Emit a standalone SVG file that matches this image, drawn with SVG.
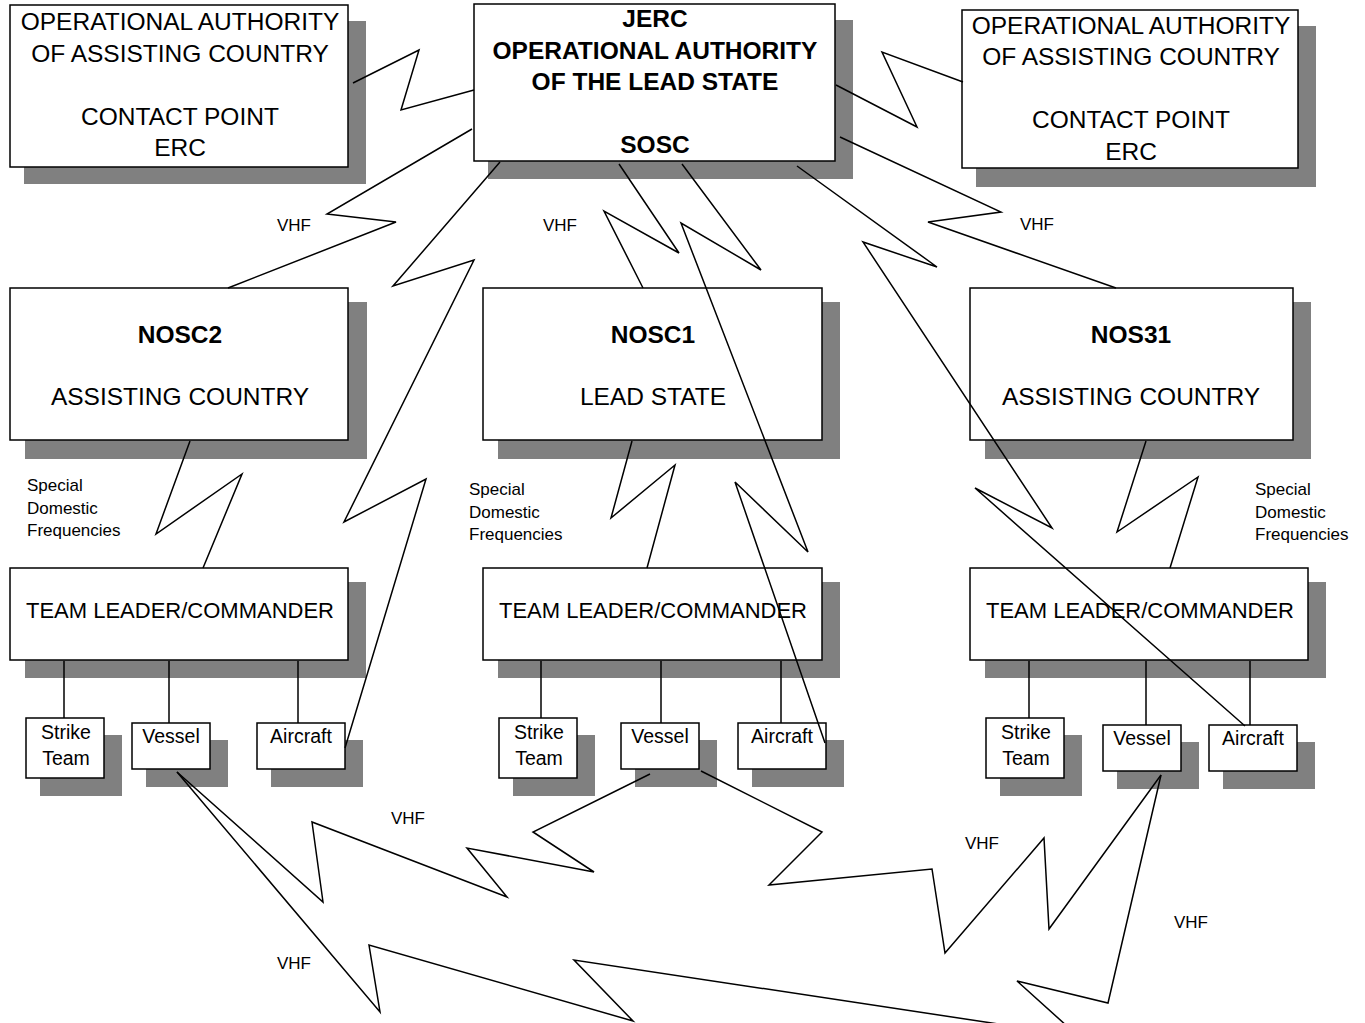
<svg xmlns="http://www.w3.org/2000/svg" width="1365" height="1023" viewBox="0 0 1365 1023">
<style>
.sh{fill:#808080;stroke:none}
.bx{fill:#fff;stroke:#000;stroke-width:1.5}
.t{font-family:"Liberation Sans",Arial,sans-serif;fill:#000;text-anchor:middle}
.big{font-size:24.5px}
.bold{font-size:24.5px;font-weight:bold}
.tl{font-size:22px}
.sm{font-size:19.5px}
.lb{font-family:"Liberation Sans",Arial,sans-serif;fill:#000;font-size:17px}
.ln{fill:none;stroke:#000;stroke-width:1.5;stroke-linejoin:miter}
</style>
<rect width="1365" height="1023" fill="#fff"/>

<g id="oa-left">
<rect class="sh" x="24" y="21" width="342" height="163"/>
<rect class="bx" x="10" y="5" width="338" height="162"/>
<text class="t big" x="180" y="30">OPERATIONAL AUTHORITY</text>
<text class="t big" x="180" y="62">OF ASSISTING COUNTRY</text>
<text class="t big" x="180" y="125">CONTACT POINT</text>
<text class="t big" x="180" y="156">ERC</text>
</g>

<g id="jerc">
<rect class="sh" x="488" y="20" width="365" height="159"/>
<rect class="bx" x="474" y="4" width="361" height="157"/>
<text class="t bold" x="655" y="27">JERC</text>
<text class="t bold" x="655" y="59">OPERATIONAL AUTHORITY</text>
<text class="t bold" x="655" y="90">OF THE LEAD STATE</text>
<text class="t bold" x="655" y="153">SOSC</text>
</g>

<g id="oa-right">
<rect class="sh" x="976" y="26" width="340" height="161"/>
<rect class="bx" x="962" y="10" width="336" height="158"/>
<text class="t big" x="1131" y="34">OPERATIONAL AUTHORITY</text>
<text class="t big" x="1131" y="65">OF ASSISTING COUNTRY</text>
<text class="t big" x="1131" y="128">CONTACT POINT</text>
<text class="t big" x="1131" y="160">ERC</text>
</g>

<g id="nosc2">
<rect class="sh" x="25" y="302" width="342" height="157"/>
<rect class="bx" x="10" y="288" width="338" height="152"/>
<text class="t bold" x="180" y="343">NOSC2</text>
<text class="t big" x="180" y="405">ASSISTING COUNTRY</text>
</g>

<g id="nosc1">
<rect class="sh" x="498" y="302" width="342" height="157"/>
<rect class="bx" x="483" y="288" width="339" height="152"/>
<text class="t bold" x="653" y="343">NOSC1</text>
<text class="t big" x="653" y="405">LEAD STATE</text>
</g>

<g id="nos31">
<rect class="sh" x="985" y="302" width="326" height="157"/>
<rect class="bx" x="970" y="288" width="323" height="152"/>
<text class="t bold" x="1131" y="343">NOS31</text>
<text class="t big" x="1131" y="405">ASSISTING COUNTRY</text>
</g>

<g id="tl-left">
<rect class="sh" x="25" y="582" width="341" height="96"/>
<rect class="bx" x="10" y="568" width="338" height="92"/>
<text class="t tl" x="180" y="618">TEAM LEADER/COMMANDER</text>
</g>

<g id="tl-center">
<rect class="sh" x="498" y="582" width="342" height="96"/>
<rect class="bx" x="483" y="568" width="339" height="92"/>
<text class="t tl" x="653" y="618">TEAM LEADER/COMMANDER</text>
</g>

<g id="tl-right">
<rect class="sh" x="985" y="582" width="341" height="96"/>
<rect class="bx" x="970" y="568" width="338" height="92"/>
<text class="t tl" x="1140" y="618">TEAM LEADER/COMMANDER</text>
</g>

<g id="strike-left">
<rect class="sh" x="40" y="735" width="82" height="61"/>
<rect class="bx" x="26" y="718" width="78" height="60"/>
<text class="t sm" x="66" y="739">Strike</text>
<text class="t sm" x="66" y="765">Team</text>
</g>
<g id="vessel-left">
<rect class="sh" x="146" y="740" width="82" height="47"/>
<rect class="bx" x="132" y="723" width="78" height="46"/>
<text class="t sm" x="171" y="743">Vessel</text>
</g>
<g id="aircraft-left">
<rect class="sh" x="271" y="740" width="92" height="47"/>
<rect class="bx" x="257" y="723" width="88" height="46"/>
<text class="t sm" x="301" y="743">Aircraft</text>
</g>

<g id="strike-center">
<rect class="sh" x="513" y="735" width="82" height="61"/>
<rect class="bx" x="499" y="718" width="78" height="60"/>
<text class="t sm" x="539" y="739">Strike</text>
<text class="t sm" x="539" y="765">Team</text>
</g>
<g id="vessel-center">
<rect class="sh" x="635" y="740" width="82" height="47"/>
<rect class="bx" x="621" y="723" width="78" height="46"/>
<text class="t sm" x="660" y="743">Vessel</text>
</g>
<g id="aircraft-center">
<rect class="sh" x="752" y="740" width="92" height="47"/>
<rect class="bx" x="738" y="723" width="88" height="46"/>
<text class="t sm" x="782" y="743">Aircraft</text>
</g>

<g id="strike-right">
<rect class="sh" x="1000" y="735" width="82" height="61"/>
<rect class="bx" x="986" y="718" width="78" height="60"/>
<text class="t sm" x="1026" y="739">Strike</text>
<text class="t sm" x="1026" y="765">Team</text>
</g>
<g id="vessel-right">
<rect class="sh" x="1117" y="742" width="82" height="47"/>
<rect class="bx" x="1103" y="725" width="78" height="46"/>
<text class="t sm" x="1142" y="745">Vessel</text>
</g>
<g id="aircraft-right">
<rect class="sh" x="1223" y="742" width="92" height="47"/>
<rect class="bx" x="1209" y="725" width="88" height="46"/>
<text class="t sm" x="1253" y="745">Aircraft</text>
</g>

<g id="connectors">
<polyline class="ln" points="353,83 419,50 401,110 474,90"/>
<polyline class="ln" points="836,85 917,127 882,52 963,82"/>
<polyline class="ln" points="472,129 327,214 396,222 228,288"/>
<polyline class="ln" points="500,162 393,286 474,260 344,522 426,479 345,748"/>
<polyline class="ln" points="619,164 679,253 604,211 643,288"/>
<polyline class="ln" points="682,164 761,270 681,223 808,552 735,482 825,743"/>
<polyline class="ln" points="840,137 1001,212 928,222 1116,288"/>
<polyline class="ln" points="797,166 937,267 863,242 1052,528 975,488 1245,726"/>
<polyline class="ln" points="190,441 156,534 242,474 203,568"/>
<polyline class="ln" points="632,441 611,518 675,465 647,568"/>
<polyline class="ln" points="1146,441 1117,532 1198,477 1170,568"/>
<line class="ln" x1="64" y1="661" x2="64" y2="718"/>
<line class="ln" x1="169" y1="661" x2="169" y2="723"/>
<line class="ln" x1="298" y1="661" x2="298" y2="723"/>
<line class="ln" x1="541" y1="661" x2="541" y2="718"/>
<line class="ln" x1="661" y1="661" x2="661" y2="723"/>
<line class="ln" x1="781" y1="661" x2="781" y2="723"/>
<line class="ln" x1="1029" y1="661" x2="1029" y2="718"/>
<line class="ln" x1="1146" y1="661" x2="1146" y2="725"/>
<line class="ln" x1="1250" y1="661" x2="1250" y2="725"/>
<polyline class="ln" points="177,772 323,902 312,822 507,897 467,848 594,872 533,832 650,774"/>
<polyline class="ln" points="701,771 822,832 769,885 932,869 945,953 1044,838 1049,929 1161,775"/>
<polyline class="ln" points="177,772 380,1012 369,945 633,1021 574,960 1078,1036 1017,981 1108,1003 1161,775"/>
</g>

<g id="labels">
<text class="lb" x="277" y="231">VHF</text>
<text class="lb" x="543" y="231">VHF</text>
<text class="lb" x="1020" y="230">VHF</text>
<text class="lb" x="391" y="824">VHF</text>
<text class="lb" x="277" y="969">VHF</text>
<text class="lb" x="965" y="849">VHF</text>
<text class="lb" x="1174" y="928">VHF</text>
<text class="lb" x="27" y="491">Special</text>
<text class="lb" x="27" y="514">Domestic</text>
<text class="lb" x="27" y="536">Frequencies</text>
<text class="lb" x="469" y="495">Special</text>
<text class="lb" x="469" y="518">Domestic</text>
<text class="lb" x="469" y="540">Frequencies</text>
<text class="lb" x="1255" y="495">Special</text>
<text class="lb" x="1255" y="518">Domestic</text>
<text class="lb" x="1255" y="540">Frequencies</text>
</g>
</svg>
